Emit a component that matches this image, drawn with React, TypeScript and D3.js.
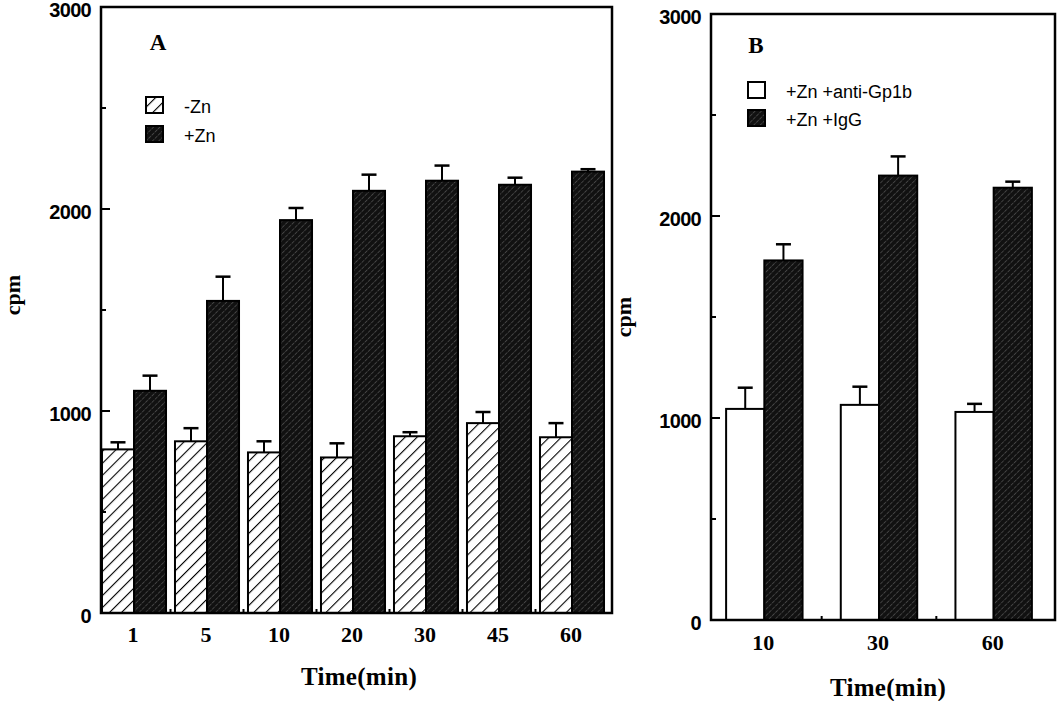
import React from "react";
import * as d3 from "d3";

// Panel A data
const timesA = ["1", "5", "10", "20", "30", "45", "60"];
const minusZn = [810, 850, 795, 770, 875, 940, 870];
const minusZnErr = [35, 65, 55, 70, 20, 55, 70];
const plusZn = [1100, 1545, 1945, 2090, 2140, 2120, 2185];
const plusZnErr = [75, 120, 60, 80, 75, 35, 12];

// Panel B data
const timesB = ["10", "30", "60"];
const antiGp1b = [1045, 1065, 1030];
const antiGp1bErr = [105, 90, 40];
const igg = [1780, 2200, 2140];
const iggErr = [80, 95, 30];

const yTicksMajor = [0, 1000, 2000, 3000];
const yTicksMinor = [500, 1500, 2500];

const SANS = "'Liberation Sans', Arial, sans-serif";
const SERIF = "'Liberation Serif', 'Times New Roman', serif";

type Series = { key: string; values: number[]; errs: number[]; fill: string; label: string };

function Panel(props: {
  cats: string[];
  series: Series[];
  x0: number; x1: number; yTop: number; yBot: number;
  bandStart: number; outerPad: number;
  letter: string; letterX: number; letterY: number;
  legendX: number; legendY: number; legendGap: number;
  cpmX: number; cpmY: number;
  tickLabelY: number;
  titleX: number; titleY: number;
}) {
  const p = props;
  const y = d3.scaleLinear().domain([0, 3000]).range([p.yBot, p.yTop]);
  const x = d3.scaleBand<string>().domain(p.cats).range([p.bandStart, p.x1 - (p.x0 - p.bandStart)]).padding(0);
  const bw = x.bandwidth();
  const xs = d3.scaleBand<string>().domain(p.series.map((s) => s.key)).range([0, bw]).paddingInner(0).paddingOuter(p.outerPad);
  const sw = xs.bandwidth();
  return (
    <g>
      {p.series.map((s) =>
        p.cats.map((c, i) => {
          const bx = (x(c) as number) + (xs(s.key) as number);
          const top = y(s.values[i]);
          const cap = y(s.values[i] + s.errs[i]);
          const cx = bx + sw / 2;
          return (
            <g key={s.key + c}>
              <line x1={cx} x2={cx} y1={top} y2={cap} stroke="#000" strokeWidth={2} />
              <line x1={cx - 7.5} x2={cx + 7.5} y1={cap} y2={cap} stroke="#000" strokeWidth={2.5} />
              <rect x={bx} y={top} width={sw} height={p.yBot - top} fill={s.fill} stroke="#000" strokeWidth={2} />
            </g>
          );
        })
      )}
      <rect x={p.x0} y={p.yTop} width={p.x1 - p.x0} height={p.yBot - p.yTop} fill="none" stroke="#000" strokeWidth={2.5} />
      {yTicksMajor.map((t) => (
        <g key={"M" + t}>
          <line x1={p.x0} x2={p.x0 + 9} y1={y(t)} y2={y(t)} stroke="#000" strokeWidth={2} />
          <text x={p.x0 - 10} y={y(t)} dy="0.5em" textAnchor="end" fontFamily={SANS} fontWeight="bold" fontSize={20} letterSpacing={-0.7}>
            {t}
          </text>
        </g>
      ))}
      {yTicksMinor.map((t) => (
        <line key={"m" + t} x1={p.x0} x2={p.x0 + 5} y1={y(t)} y2={y(t)} stroke="#000" strokeWidth={2} />
      ))}
      {p.cats.slice(1).map((c) => (
        <line key={"xt" + c} x1={x(c) as number} x2={x(c) as number} y1={p.yBot} y2={p.yBot - 4} stroke="#000" strokeWidth={2} />
      ))}
      {p.cats.map((c) => (
        <text key={"xl" + c} x={(x(c) as number) + bw / 2 - 1} y={p.tickLabelY} textAnchor="middle" fontFamily={SERIF} fontWeight="bold" fontSize={22}>
          {c}
        </text>
      ))}
      <text x={p.letterX} y={p.letterY} textAnchor="middle" fontFamily={SERIF} fontWeight="bold" fontSize={23}>
        {p.letter}
      </text>
      {p.series.map((s, i) => (
        <g key={"lg" + s.key}>
          <rect x={p.legendX} y={p.legendY + i * p.legendGap} width={17} height={16} fill={s.fill} stroke="#000" strokeWidth={2} />
          <text x={p.legendX + 38} y={p.legendY + i * p.legendGap + 16} fontFamily={SANS} fontSize={18}>
            {s.label}
          </text>
        </g>
      ))}
      <text transform={`translate(${p.cpmX},${p.cpmY}) rotate(-90)`} textAnchor="middle" fontFamily={SERIF} fontWeight="bold" fontSize={22}>
        cpm
      </text>
      <text x={p.titleX} y={p.titleY} textAnchor="middle" fontFamily={SERIF} fontWeight="bold" fontSize={25} letterSpacing={0.3}>
        Time(min)
      </text>
    </g>
  );
}

export default function App() {
  const seriesA: Series[] = [
    { key: "neg", values: minusZn, errs: minusZnErr, fill: "url(#hatchLight)", label: "-Zn" },
    { key: "pos", values: plusZn, errs: plusZnErr, fill: "url(#hatchDark)", label: "+Zn" },
  ];
  const seriesB: Series[] = [
    { key: "anti", values: antiGp1b, errs: antiGp1bErr, fill: "#fff", label: "+Zn +anti-Gp1b" },
    { key: "igg", values: igg, errs: iggErr, fill: "url(#hatchDark)", label: "+Zn +IgG" },
  ];
  return (
    <svg width={1062} height={701} style={{ position: "absolute", left: 0, top: 0, background: "#fff" }}>
      <defs>
        <pattern id="hatchLight" patternUnits="userSpaceOnUse" width={8.5} height={8.5} patternTransform="rotate(45)">
          <rect width={8.5} height={8.5} fill="#fff" />
          <line x1={0} y1={0} x2={0} y2={8.5} stroke="#000" strokeWidth={2.2} />
        </pattern>
        <pattern id="hatchDark" patternUnits="userSpaceOnUse" width={4.5} height={4.5} patternTransform="rotate(45)">
          <rect width={4.5} height={4.5} fill="#111" />
          <line x1={0} y1={0} x2={0} y2={4.5} stroke="#8a8a8a" strokeWidth={0.8} strokeDasharray="2 1" />
        </pattern>
      </defs>
      <Panel
        cats={timesA}
        series={seriesA}
        x0={101} x1={612} yTop={7} yBot={613}
        bandStart={97.5} outerPad={0.14}
        letter="A" letterX={158} letterY={50}
        legendX={146} legendY={97} legendGap={29}
        cpmX={20} cpmY={295}
        tickLabelY={642}
        titleX={359} titleY={685}
      />
      <Panel
        cats={timesB}
        series={seriesB}
        x0={711} x1={1055} yTop={14} yBot={620}
        bandStart={707} outerPad={0.5}
        letter="B" letterX={756} letterY={53}
        legendX={748} legendY={82} legendGap={28}
        cpmX={631} cpmY={317}
        tickLabelY={650}
        titleX={888} titleY={696}
      />
    </svg>
  );
}
